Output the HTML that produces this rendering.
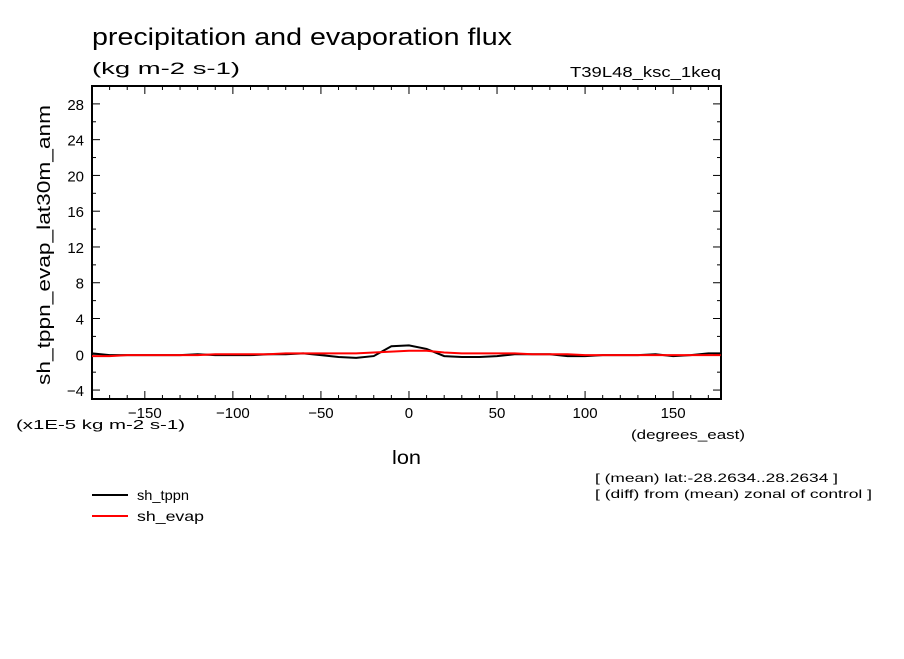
<!DOCTYPE html>
<html><head><meta charset="utf-8"><style>
body{margin:0;background:#fff;}
svg text{font-family:"Liberation Sans","DejaVu Sans",sans-serif;fill:#000;}
</style></head><body>
<svg width="904" height="654" viewBox="0 0 904 654" xmlns="http://www.w3.org/2000/svg">
<rect width="904" height="654" fill="#fff"/>
<text x="92" y="45" font-size="24" textLength="420" lengthAdjust="spacingAndGlyphs">precipitation and evaporation flux</text>
<text x="92" y="74" font-size="17" textLength="148" lengthAdjust="spacingAndGlyphs">(kg m-2 s-1)</text>
<text x="570" y="77" font-size="15" textLength="151" lengthAdjust="spacingAndGlyphs">T39L48_ksc_1keq</text>
<text transform="translate(50,385) rotate(-90)" font-size="18" textLength="280" lengthAdjust="spacingAndGlyphs">sh_tppn_evap_lat30m_anm</text>
<text x="16" y="429" font-size="13" textLength="169" lengthAdjust="spacingAndGlyphs">(x1E-5 kg m-2 s-1)</text>
<text x="631" y="439" font-size="13" textLength="114" lengthAdjust="spacingAndGlyphs">(degrees_east)</text>
<text x="392" y="464" font-size="19" textLength="29" lengthAdjust="spacingAndGlyphs">lon</text>
<text x="595" y="482" font-size="12" textLength="243" lengthAdjust="spacingAndGlyphs">[ (mean) lat:-28.2634..28.2634 ]</text>
<text x="595" y="498" font-size="12" textLength="277" lengthAdjust="spacingAndGlyphs">[ (diff) from (mean) zonal of control ]</text>
<g>
<line x1="92" y1="495" x2="128" y2="495" stroke="#000" stroke-width="2"/>
<text x="137" y="500" font-size="14" textLength="52" lengthAdjust="spacingAndGlyphs">sh_tppn</text>
<line x1="92" y1="516" x2="128" y2="516" stroke="#f00" stroke-width="2"/>
<text x="137" y="521" font-size="14" textLength="67" lengthAdjust="spacingAndGlyphs">sh_evap</text>
</g>
<g id="axes"></g>
<g id="series"></g>
</svg>
<script>
const lons=[-180,-170,-160,-150,-140,-130,-120,-110,-100,-90,-80,-70,-60,-50,-40,-30,-20,-10,0,10,20,30,40,50,60,70,80,90,100,110,120,130,140,150,160,170,177];
const tppn=[0.1,-0.1,-0.1,-0.1,-0.1,-0.1,0,-0.1,-0.1,-0.1,0,0,0.1,-0.1,-0.3,-0.4,-0.2,0.9,1.0,0.6,-0.2,-0.3,-0.3,-0.2,0,0,0,-0.2,-0.2,-0.1,-0.1,-0.1,0,-0.2,-0.1,0.1,0.1];
const evap=[-0.2,-0.2,-0.1,-0.1,-0.1,-0.1,-0.1,0,0,0,0,0.1,0.1,0.1,0.1,0.1,0.2,0.3,0.4,0.4,0.2,0.1,0.1,0.1,0.1,0,0,0,-0.1,-0.1,-0.1,-0.1,-0.1,-0.1,-0.1,-0.1,-0.1];
const yTicks=[-4,0,4,8,12,16,20,24,28];
const xTicks=[-150,-100,-50,0,50,100,150];
const L=92,R=721,T=86,B=399,xmin=-180,xmax=177.1875,ymin=-5,ymax=30;
const sx=v=>L+(v-xmin)/(xmax-xmin)*(R-L);
const sy=v=>B-(v-ymin)/(ymax-ymin)*(B-T);
const NS="http://www.w3.org/2000/svg";
const ax=document.getElementById('axes'),se=document.getElementById('series');
function mk(tag,at,par){const e=document.createElementNS(NS,tag);for(const k in at)e.setAttribute(k,at[k]);par.appendChild(e);return e;}
const frame=mk('rect',{x:L,y:T,width:R-L,height:B-T,fill:'none',stroke:'#000','stroke-width':2},ax);


for(let v=-4;v<=30;v+=2){const y=sy(v);const len=(v%4===0)?8:4;
 const a=mk('line',{x1:L,y1:y,x2:L+len,y2:y,stroke:'#000','stroke-width':1},ax);
 
 
 const b=mk('line',{x1:R,y1:y,x2:R-len,y2:y,stroke:'#000','stroke-width':1},ax);
 
 }
yTicks.forEach(v=>{const s=v<0?'\u2212'+(-v):String(v);
 const t=mk('text',{x:L-8,y:sy(v)+6,'font-size':15,'text-anchor':'end'},ax);t.textContent=s;
 
 });
for(let v=-170;v<=170;v+=10){const x=sx(v);const len=(v%50===0)?8:4;
 const a=mk('line',{x1:x,y1:B,x2:x,y2:B-len,stroke:'#000','stroke-width':1},ax);
 
 
 const b=mk('line',{x1:x,y1:T,x2:x,y2:T+len,stroke:'#000','stroke-width':1},ax);
 
 }
xTicks.forEach(v=>{const s=v<0?'\u2212'+(-v):String(v);
 const t=mk('text',{x:sx(v),y:B+19,'font-size':15,'text-anchor':'middle'},ax);t.textContent=s;
 
 });
function line(vals,col,name){const p=mk('polyline',{points:lons.map((l,i)=>sx(l)+','+sy(vals[i])).join(' '),fill:'none',stroke:col,'stroke-width':2},se);
 
 }
line(tppn,'#000','series-sh-tppn');
line(evap,'#f00','series-sh-evap');
</script>
</body></html>
